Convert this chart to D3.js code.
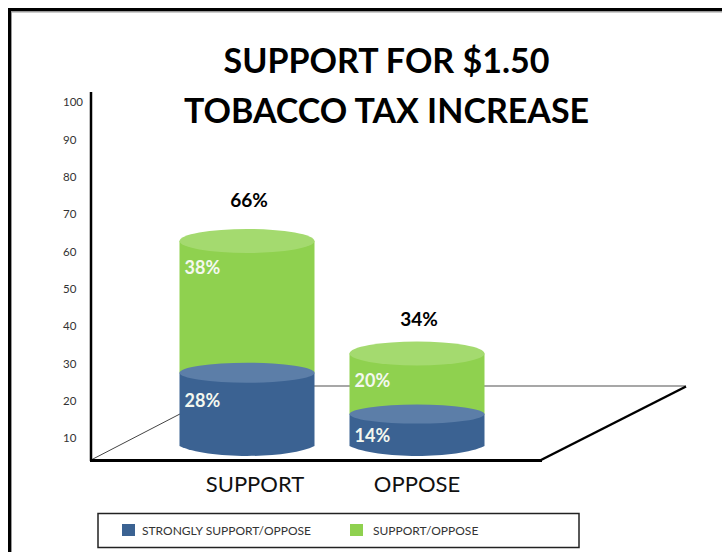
<!DOCTYPE html>
<html>
<head>
<meta charset="utf-8">
<script src="https://cdn.jsdelivr.net/npm/d3@7/dist/d3.min.js"></script>
<style>
  html, body { margin: 0; padding: 0; background: #fff; }
  svg { display: block; }
  text { font-family: Lato, "Open Sans", sans-serif; }
</style>
</head>
<body>
<script>
// Chart content
const titleLines = ["SUPPORT FOR $1.50", "TOBACCO TAX INCREASE"];
const categories = ["SUPPORT", "OPPOSE"];
const stronglyValues = [28, 14];
const moderateValues = [38, 20];
const totalLabels = [66, 34];
const axisTicks = [10, 20, 30, 40, 50, 60, 70, 80, 90, 100];
const legendLabels = ["STRONGLY SUPPORT/OPPOSE", "SUPPORT/OPPOSE"];

const width = 722, height = 552;
const BLUE = "#3b6292", BLUE_TOP = "#5c7ea8", GREEN = "#8fd14f", GREEN_TOP = "#a4da6f";

const svg = d3.select("body").append("svg")
  .attr("width", width).attr("height", height)
  .attr("viewBox", [0, 0, width, height]);

// Page frame: only the top and left edges are ruled
const frame = svg.append("g").attr("fill", "none");
frame.append("path").attr("d", "M10,552V10.5H722").attr("stroke", "#9a9a9a").attr("stroke-width", 2).attr("transform", "translate(1,1)");
frame.append("path").attr("d", "M9.5,552V9.5H722").attr("stroke", "#000").attr("stroke-width", 3);

// Scales
const axisY = d3.scaleLinear().domain([10, 100]).range([438, 102]);
// Cylinder heights grow slightly faster than their values, as in a perspective stretch
const barY = d3.scalePow().exponent(1.2).domain([0, 66]).range([446, 241]);
const barX = d3.scalePoint().domain(categories).range([247, 417]);
const labelX = d3.scalePoint().domain(categories).range([255, 417]);
// Taller stacks keep their labels a little further from the section edge
const totalGap = d3.scaleLinear().domain([34, 66]).range([28, 34]);
const strongGap = d3.scaleLinear().domain([14, 28]).range([28, 34]);
const RX = 67.5;

// Floor plane behind the cylinders
const floor = svg.append("g").attr("fill", "none");
floor.append("line").attr("x1", 91).attr("y1", 460).attr("x2", 234).attr("y2", 386).attr("stroke", "#444").attr("stroke-width", 1);
floor.append("line").attr("x1", 234).attr("y1", 386).attr("x2", 686).attr("y2", 386).attr("stroke", "#8a8a8a").attr("stroke-width", 1.5);

// Value axis
const axisG = svg.append("g").attr("transform", "translate(63,0)")
  .call(d3.axisLeft(axisY).tickValues(axisTicks).tickSize(0).tickPadding(0));
axisG.select(".domain").remove();
axisG.selectAll("text")
  .attr("x", 0).attr("text-anchor", "start")
  .attr("font-size", 11.5).attr("fill", "#333");

// A single cylinder section from its bottom and top levels
function cylinderBody(cx, yTop, yBottom, ryBottom) {
  const p = d3.path();
  p.moveTo(cx - RX, yTop);
  p.lineTo(cx - RX, yBottom);
  p.bezierCurveTo(cx - RX * 0.6, yBottom + ryBottom * 1.33, cx + RX * 0.6, yBottom + ryBottom * 1.33, cx + RX, yBottom);
  p.lineTo(cx + RX, yTop);
  p.closePath();
  return p.toString();
}

const rows = categories.map((c, i) => ({
  category: c,
  strong: stronglyValues[i],
  moderate: moderateValues[i],
  total: totalLabels[i],
  cx: barX(c)
}));

const bars = svg.append("g").selectAll("g").data(rows).join("g");

// Upper (green) section, then the lower (blue) section resting in front of it
bars.append("path")
  .attr("d", d => cylinderBody(d.cx, barY(d.total), barY(d.strong), 0))
  .attr("fill", GREEN);
bars.append("ellipse")
  .attr("cx", d => d.cx).attr("cy", d => barY(d.total))
  .attr("rx", RX).attr("ry", 12).attr("fill", GREEN_TOP);
bars.append("path")
  .attr("d", d => cylinderBody(d.cx, barY(d.strong), barY(0), 10))
  .attr("fill", BLUE);
bars.append("ellipse")
  .attr("cx", d => d.cx).attr("cy", d => barY(d.strong))
  .attr("rx", RX).attr("ry", d => d.strong > 20 ? 10 : 9.5).attr("fill", BLUE_TOP);

// Section labels
const pct = v => v + "%";
const sectionStyle = sel => sel
  .attr("x", d => d.cx - RX + 5)
  .attr("font-size", 18).attr("font-weight", 700).attr("fill", "#f4f8ef");
bars.append("text").call(sectionStyle)
  .attr("y", d => barY(d.total) + 33)
  .text(d => pct(d.moderate));
bars.append("text").call(sectionStyle)
  .attr("y", d => barY(d.strong) + strongGap(d.strong))
  .text(d => pct(d.strong));

// Totals above each cylinder
bars.append("text")
  .attr("x", d => d.cx + 2)
  .attr("y", d => barY(d.total) - totalGap(d.total))
  .attr("text-anchor", "middle")
  .attr("font-size", 19).attr("font-weight", 700).attr("fill", "#000")
  .text(d => pct(d.total));

// Axis lines in front of the floor
const axes = svg.append("g").attr("fill", "none").attr("stroke", "#000");
axes.append("line").attr("x1", 91).attr("y1", 92).attr("x2", 91).attr("y2", 461).attr("stroke-width", 2.5);
axes.append("line").attr("x1", 90).attr("y1", 460.5).attr("x2", 542).attr("y2", 460.5).attr("stroke-width", 3);
axes.append("line").attr("x1", 541).attr("y1", 460).attr("x2", 686).attr("y2", 386.5).attr("stroke-width", 2.5);

// Category labels
svg.append("g").selectAll("text").data(categories).join("text")
  .attr("x", d => labelX(d)).attr("y", 492)
  .attr("text-anchor", "middle").attr("font-size", 22).attr("fill", "#111")
  .text(d => d);

// Title
svg.append("g").selectAll("text").data(titleLines).join("text")
  .attr("x", 386.5).attr("y", (d, i) => 73 + i * 50)
  .attr("text-anchor", "middle").attr("font-size", 34).attr("font-weight", 700).attr("fill", "#000")
  .text(d => d);

// Legend
const legend = svg.append("g");
legend.append("rect").attr("x", 98).attr("y", 513.5).attr("width", 481).attr("height", 34)
  .attr("fill", "#fff").attr("stroke", "#222").attr("stroke-width", 1.5);
const legendX = d3.scaleOrdinal().domain(legendLabels).range([122, 350]);
const legendColor = d3.scaleOrdinal().domain(legendLabels).range([BLUE, GREEN]);
const legendTextGap = d3.scaleOrdinal().domain(legendLabels).range([20, 23]);
const items = legend.selectAll("g").data(legendLabels).join("g");
items.append("rect")
  .attr("x", d => legendX(d)).attr("y", 524).attr("width", 13).attr("height", 12)
  .attr("fill", d => legendColor(d));
items.append("text")
  .attr("x", d => legendX(d) + legendTextGap(d)).attr("y", 534.5)
  .attr("font-size", 12).attr("fill", "#333")
  .text(d => d);
</script>
</body>
</html>
